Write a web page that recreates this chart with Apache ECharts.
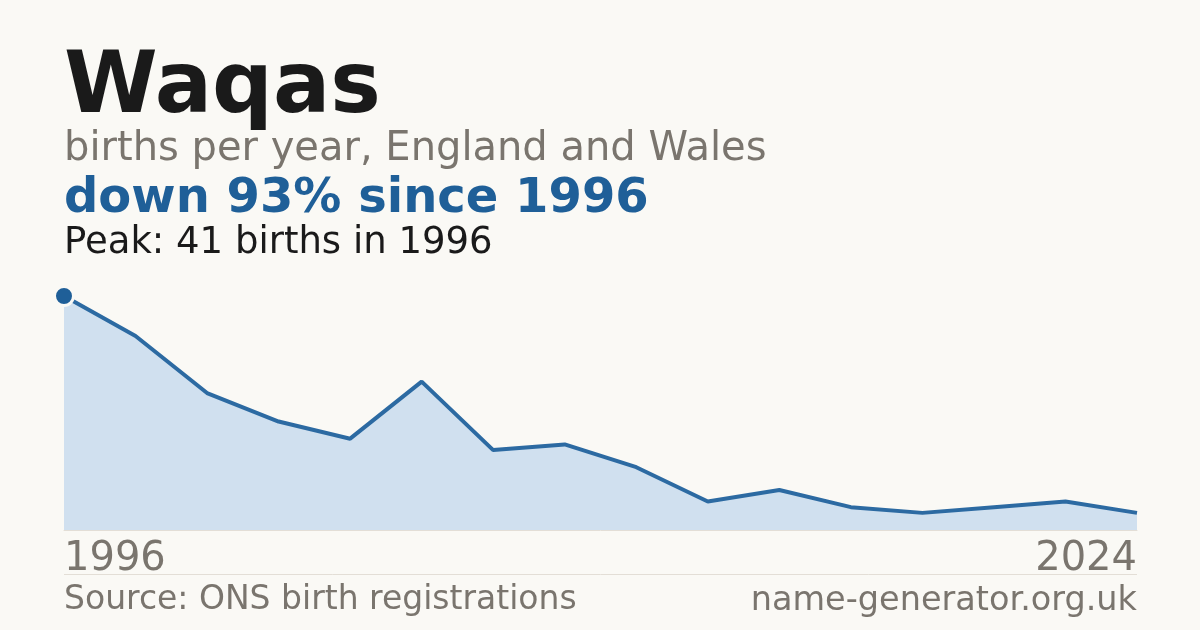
<!DOCTYPE html>
<html><head><meta charset="utf-8">
<script src="https://cdn.jsdelivr.net/npm/echarts@6/dist/echarts.min.js"></script>
<style>html,body{margin:0;padding:0;background:#faf9f5;}#c{width:1200px;height:630px;}</style>
</head><body><div id="c"></div>
<script>
const years = ['1996','1998','2000','2002','2004','2006','2008','2010','2012','2014','2016','2018','2020','2022','2023','2024'];
const births = [41,34,24,19,16,26,14,15,11,5,7,4,3,4,5,3];

const FONT = 'DejaVu Sans';
const chart = echarts.init(document.getElementById('c'));
const data = births.map((v,i)=> i===0 ? {value:v, symbol:'circle', symbolSize:19, itemStyle:{color:'#1f5f98', borderColor:'#faf9f5', borderWidth:3}} : v);
chart.setOption({
  backgroundColor:'#faf9f5',
  animation:false,
  grid:{left:64,right:63,top:296,bottom:100,containLabel:false},
  xAxis:{type:'category',data:years,boundaryGap:false,
    axisLine:{show:true,lineStyle:{color:'#e3ded6',width:1}},
    axisTick:{show:false},
    axisLabel:{show:true,interval:0,formatter:(v,i)=> (i===0||i===years.length-1)?v:'',
      color:'#7a756e',fontFamily:FONT,fontSize:40,margin:10,alignMinLabel:'left',alignMaxLabel:'right'},
    splitLine:{show:false}},
  yAxis:{type:'value',min:0,max:41,show:false,splitLine:{show:false}},
  series:[{type:'line',data:data,showSymbol:true,symbol:'none',
    lineStyle:{color:'#2c6aa2',width:4},
    areaStyle:{color:'#d0e0ef',opacity:1},
    z:3}],
  graphic:[
    {type:'text',left:64,top:47,style:{text:'Waqas',font:'bold 85px "DejaVu Sans"',fill:'#1a1a1a'}},
    {type:'text',left:64,top:130,style:{text:'births per year, England and Wales',font:'40px "DejaVu Sans"',fill:'#7a756e'}},
    {type:'text',left:64,top:176,style:{text:'down 93% since 1996',font:'bold 48px "DejaVu Sans"',fill:'#1f5f98'}},
    {type:'text',left:64,top:225,style:{text:'Peak: 41 births in 1996',font:'37px "DejaVu Sans"',fill:'#1a1a1a'}},
    {type:'line',shape:{x1:64,y1:574.5,x2:1137,y2:574.5},style:{stroke:'#e3ded6',lineWidth:1}},
    {type:'text',left:64,top:584,style:{text:'Source: ONS birth registrations',font:'33px "DejaVu Sans"',fill:'#7a756e'}},
    {type:'text',right:63,top:584,style:{text:'name-generator.org.uk',font:'33.5px "DejaVu Sans"',fill:'#7a756e'}}
  ]
});
</script></body></html>
